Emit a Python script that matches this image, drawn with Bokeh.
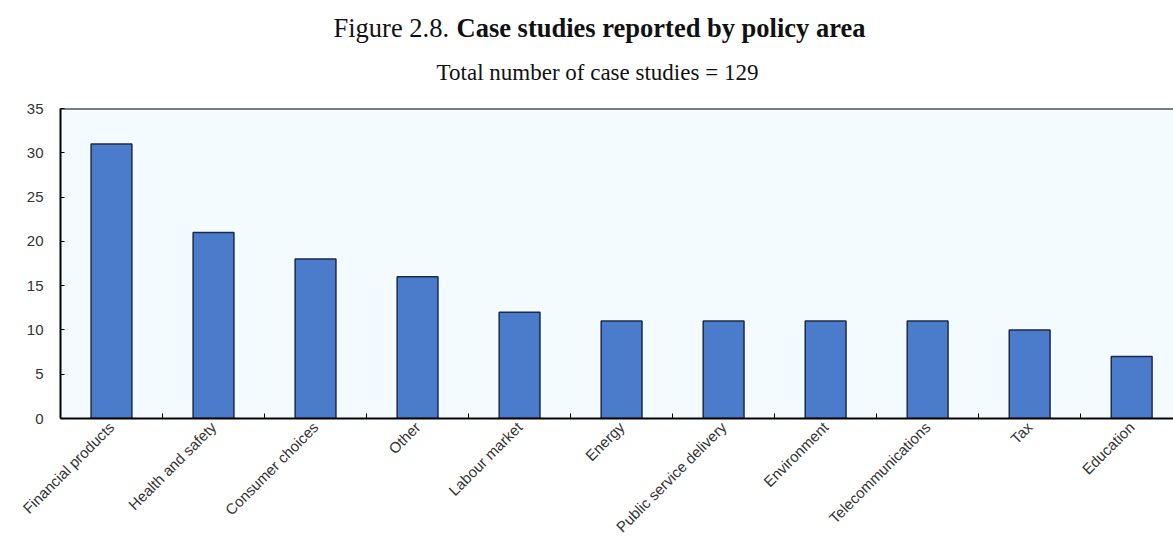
import math
from bokeh.plotting import figure
from bokeh.layouts import column
from bokeh.models import Range1d, FixedTicker, Span
from bokeh.core.properties import value
from bokeh.embed import file_html
from bokeh.resources import INLINE

categories = ["Financial products", "Health and safety", "Consumer choices", "Other",
              "Labour market", "Energy", "Public service delivery", "Environment",
              "Telecommunications", "Tax", "Education"]
counts = [31, 21, 18, 16, 12, 11, 11, 11, 11, 10, 7]
y_ticks = [0, 5, 10, 15, 20, 25, 30, 35]
title_plain = "Figure 2.8."
title_bold = "Case studies reported by policy area"
subtitle = "Total number of case studies = 129"

xs = list(range(len(categories)))

W, H = 1173, 546
TH = 90   # title strip height
FL = 60   # frame left (shared by both figures)

# ---- title strip (its frame is aligned with the chart frame: x maps to pixels) ----
t = figure(width=W, height=TH, output_backend="svg", toolbar_location=None,
           x_range=Range1d(FL, W), y_range=Range1d(TH, 0),
           x_axis_type=None, y_axis_type=None,
           min_border_left=FL, min_border_right=0,
           min_border_top=0, min_border_bottom=0)
t.outline_line_color = None
t.grid.visible = False
t.background_fill_color = "white"
t.border_fill_color = "white"
t.text(x=[333], y=[27], text=[title_plain], text_font=value("Liberation Serif"),
       text_font_size="26.5px", text_baseline="middle", text_align="left",
       text_color="#111111")
t.text(x=[456], y=[27], text=[title_bold], text_font=value("Liberation Serif"),
       text_font_size="26.5px", text_font_style="bold", text_baseline="middle",
       text_align="left", text_color="#111111")
t.text(x=[597], y=[72], text=[subtitle], text_font=value("Liberation Serif"),
       text_font_size="23px", text_baseline="middle", text_align="center",
       text_color="#111111")

# ---- main chart ----
p = figure(width=W, height=H - TH, output_backend="svg", toolbar_location=None,
           x_range=Range1d(-0.5, len(categories) - 0.5 - 0.09),
           y_range=Range1d(0, 35),
           min_border_left=FL, min_border_right=0, min_border_top=108 - TH,
           min_border_bottom=128)
p.background_fill_color = "#f4fbfe"
p.border_fill_color = "white"
p.outline_line_color = None
p.grid.visible = False

p.vbar(x=xs, top=counts, width=0.4, fill_color="#4a7ccb",
       line_color="#1c2a48", line_width=1.5)

p.add_layout(Span(location=35, dimension="width", line_color="black", line_width=2))

ya = p.yaxis[0]
ya.ticker = FixedTicker(ticks=y_ticks)
ya.axis_line_color = "black"
ya.axis_line_width = 2
ya.major_tick_in = 4
ya.major_tick_out = 0
ya.minor_tick_line_color = None
ya.major_label_text_font = "Liberation Sans"
ya.major_label_text_font_size = "15px"
ya.major_label_text_color = "#333333"
ya.major_label_standoff = 17

xa = p.xaxis[0]
xa.ticker = FixedTicker(ticks=xs, minor_ticks=[i + 0.5 for i in xs[:-1]])
xa.major_label_overrides = {i: c for i, c in zip(xs, categories)}
xa.major_label_orientation = math.pi / 4
xa.axis_line_color = "black"
xa.axis_line_width = 2
xa.major_tick_in = 0
xa.major_tick_out = 0
xa.minor_tick_in = 5
xa.minor_tick_out = 0
xa.minor_tick_line_color = "black"
xa.major_label_text_font = "Liberation Sans"
xa.major_label_text_font_size = "15px"
xa.major_label_text_color = "#333333"
xa.major_label_standoff = 6

layout = column(t, p, spacing=0)
open("out.html", "w").write(file_html(layout, INLINE))
